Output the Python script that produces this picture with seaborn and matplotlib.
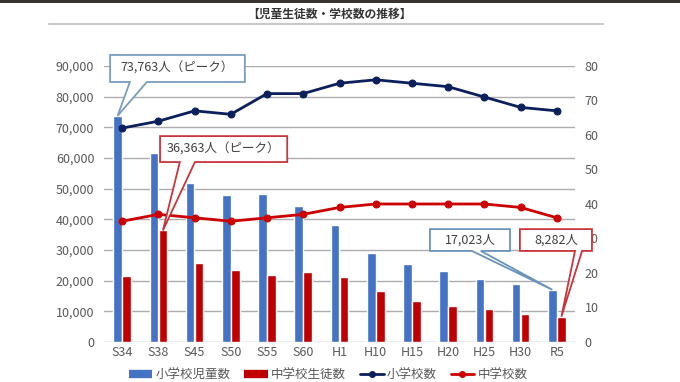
import numpy as np
import pandas as pd
import matplotlib
matplotlib.use("Agg")
import matplotlib.pyplot as plt
from matplotlib.patches import Polygon, Rectangle
from matplotlib.lines import Line2D
from matplotlib.ticker import FuncFormatter, MultipleLocator
import seaborn as sns

# ---------------- data ----------------
categories = ["S34", "S38", "S45", "S50", "S55", "S60", "H1", "H10", "H15", "H20", "H25", "H30", "R5"]
elem_students = [73763, 61500, 52000, 48000, 48300, 44500, 38300, 29000, 25400, 23000, 20700, 18900, 17023]
jh_students = [21600, 36363, 25900, 23500, 21900, 22700, 21300, 16500, 13400, 11900, 10600, 9100, 8282]
elem_schools = [62, 64, 67, 66, 72, 72, 75, 76, 75, 74, 71, 68, 67]
jh_schools = [35, 37, 36, 35, 36, 37, 39, 40, 40, 40, 40, 39, 36]
series_names = ["小学校児童数", "中学校生徒数", "小学校数", "中学校数"]
title = "【児童生徒数・学校数の推移】"
callout_texts = ["73,763人（ピーク）", "36,363人（ピーク）", "17,023人", "8,282人"]

BLUE = "#4472C4"
RED = "#C00000"
NAVY = "#0B1F5C"
RLINE = "#CC0000"
GRID = "#ADADAD"
TXT = "#595959"

sns.set_theme(style="white")
plt.rcParams["font.family"] = ["Noto Sans CJK JP", "DejaVu Sans"]

df = pd.DataFrame({
    "cat": categories * 2,
    "series": [series_names[0]] * len(categories) + [series_names[1]] * len(categories),
    "value": elem_students + jh_students,
})

fig = plt.figure(figsize=(6.8, 3.82), dpi=100)
ax = fig.add_axes([104 / 680, 1 - 342 / 382, 471 / 680, 276 / 382])

sns.barplot(data=df, x="cat", y="value", hue="series", order=categories,
            hue_order=series_names[:2], palette=[BLUE, RED], width=0.5, gap=0.05,
            errorbar=None, ax=ax, legend=False, saturation=1)
ax.set_xlim(-0.5, len(categories) - 0.5)
ax.set_ylim(0, 90000)
ax.yaxis.set_major_locator(MultipleLocator(10000))
ax.yaxis.set_major_formatter(FuncFormatter(lambda v, p: f"{int(v):,}"))
ax.grid(axis="y", color=GRID, linewidth=1)
ax.set_axisbelow(True)
ax.set_xlabel("")
ax.set_ylabel("")
ax.tick_params(axis="both", length=0, labelsize=9, labelcolor=TXT)
ax.tick_params(axis="y", pad=7)
ax.tick_params(axis="x", pad=3)
for s in ax.spines.values():
    s.set_visible(False)

ax2 = ax.twinx()
pos = np.arange(len(categories))
sns.lineplot(x=pos, y=elem_schools, ax=ax2, color=NAVY, marker="o", markersize=5,
             markeredgecolor=NAVY, linewidth=2)
sns.lineplot(x=pos, y=jh_schools, ax=ax2, color=RLINE, marker="o", markersize=5,
             markeredgecolor=RLINE, linewidth=2)
ax2.set_ylim(0, 80)
ax2.set_xlim(-0.5, len(categories) - 0.5)
ax2.yaxis.set_major_locator(MultipleLocator(10))
ax2.tick_params(axis="y", length=0, labelsize=9, labelcolor=TXT, pad=7)
ax2.grid(False)
for s in ax2.spines.values():
    s.set_visible(False)

# ---------------- callouts ----------------
def to_axes(x, y):
    disp = ax.transData.transform((x, y))
    return ax.transAxes.inverted().transform(disp)

def bar_top(container_idx, cat_idx):
    b = ax.containers[container_idx][cat_idx]
    return to_axes(b.get_x() + b.get_width() / 2, b.get_height())

def callout(text, box, base, tip, ec):
    x0, y0, x1, y1 = box
    b0, b1 = base
    tx, ty = tip
    pts = [(x0, y0), (b0, y0), (tx, ty), (b1, y0), (x1, y0), (x1, y1), (x0, y1)]
    poly = Polygon(pts, closed=True, transform=ax2.transAxes, facecolor="white",
                   edgecolor=ec, linewidth=1.3, zorder=10, clip_on=False)
    ax2.add_patch(poly)
    ax2.text((x0 + x1) / 2, (y0 + y1) / 2, text, transform=ax2.transAxes,
             ha="center", va="center", fontsize=9, color="#404040", zorder=11)

fig.canvas.draw()
callout(callout_texts[0], (0.013, 0.942, 0.299, 1.040), (0.055, 0.091), bar_top(0, 0), "#7A9CC0")
callout(callout_texts[1], (0.119, 0.652, 0.389, 0.746), (0.161, 0.193), bar_top(1, 1), "#C8353A")
callout(callout_texts[2], (0.692, 0.330, 0.862, 0.409), (0.781, 0.800), bar_top(0, 12), "#6A93BC")
callout(callout_texts[3], (0.883, 0.330, 1.036, 0.409), (1.000, 1.015), bar_top(1, 12), "#C8353A")

# ---------------- legend ----------------
handles = [
    Line2D([], [], color=BLUE, linewidth=6, solid_capstyle="butt"),
    Line2D([], [], color=RED, linewidth=6, solid_capstyle="butt"),
    Line2D([], [], color=NAVY, linewidth=2, marker="o", markersize=4),
    Line2D([], [], color=RLINE, linewidth=2, marker="o", markersize=4),
]
fig.legend(handles, series_names, loc="center", bbox_to_anchor=(328 / 680, 1 - 375 / 382),
           ncol=4, frameon=False, fontsize=9, handlelength=1.9, handletextpad=0.25,
           columnspacing=1.1, labelcolor=TXT)

# ---------------- title & decorations ----------------
fig.text(0.485, 1 - 14 / 382, title, ha="center", va="center", fontsize=8.5,
         fontweight="bold", color="#333333")
fig.add_artist(Line2D([49 / 680, 603 / 680], [1 - 24 / 382, 1 - 24 / 382],
                      transform=fig.transFigure, color="#C8C8C8", linewidth=1.5))
fig.add_artist(Rectangle((0, 1 - 3 / 382), 1, 3 / 382, transform=fig.transFigure,
                         facecolor="#3A3430", edgecolor="none"))

fig.savefig("out.png", dpi=100)
